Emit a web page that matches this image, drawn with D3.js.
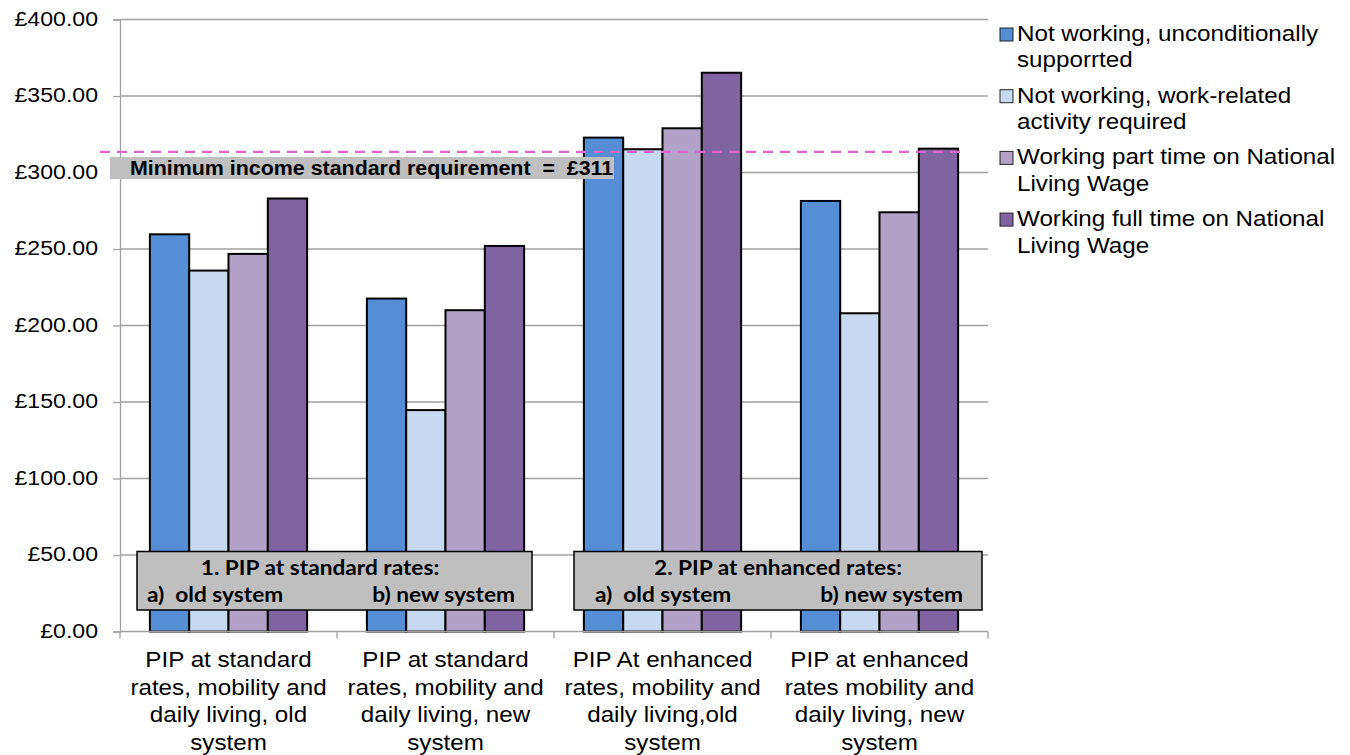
<!DOCTYPE html>
<html>
<head>
<meta charset="utf-8">
<script src="https://cdn.jsdelivr.net/npm/d3@7"></script>
<style>
  body { margin: 0; background: #fff; }
  text { font-family: "Liberation Sans", Arial, sans-serif; white-space: pre; }
</style>
</head>
<body>
<div id="chart"></div>
<script>
const categories = [
  ["PIP at standard", "rates, mobility and", "daily living, old", "system"],
  ["PIP at standard", "rates, mobility and", "daily living, new", "system"],
  ["PIP At enhanced", "rates, mobility and", "daily living,old", "system"],
  ["PIP at enhanced", "rates mobility and", "daily living, new", "system"]
];
const seriesNames = [
  ["Not working, unconditionally", "supporrted"],
  ["Not working, work-related", "activity required"],
  ["Working part time on National", "Living Wage"],
  ["Working full time on National", "Living Wage"]
];
const unconditional = [259.6, 217.6, 322.8, 281.4];
const workRelated = [235.9, 144.7, 315.2, 208.0];
const partTime = [246.8, 210.0, 328.9, 274.0];
const fullTime = [283.0, 252.0, 365.2, 315.6];
const yTicks = [0, 50, 100, 150, 200, 250, 300, 350, 400];
const minIncomeLine = 313.5;
const minIncomeLabel = "Minimum income standard requirement  =  £311";
const groupLabels = [
  ["1. PIP at standard rates:", "a)  old system", "b) new system"],
  ["2. PIP at enhanced rates:", "a)  old system", "b) new system"]
];

const colors = ["#558ED5", "#C6D9F1", "#B3A2C7", "#8064A2"];
const series = [unconditional, workRelated, partTime, fullTime];

const width = 1350, height = 755;
const plotLeft = 120, plotRight = 988, plotTop = 19.5, plotBottom = 631.5;
const stretch = 1.1; // the reference text is a bit wider than it is tall

const svg = d3.select('#chart').append('svg')
  .attr('width', width)
  .attr('height', height);

const y = d3.scaleLinear().domain([0, 400]).range([plotBottom, plotTop]);
const x = d3.scaleBand().domain(d3.range(categories.length)).range([plotLeft, plotRight]);
const xInner = d3.scaleBand().domain(d3.range(series.length))
  .range([0, x.bandwidth()]).paddingOuter(0.76);

// gridlines
svg.append('g').selectAll('line')
  .data(yTicks.filter(d => d > 0))
  .enter().append('line')
  .attr('x1', plotLeft).attr('x2', plotRight)
  .attr('y1', d => y(d)).attr('y2', d => y(d))
  .attr('stroke', '#a0a0a0').attr('stroke-width', 1.3);

// y axis
const yAxis = svg.append('g')
  .attr('transform', `translate(${plotLeft},0)`)
  .call(d3.axisLeft(y).tickValues(yTicks).tickSize(7)
    .tickFormat(d => '£' + d3.format('.2f')(d)));
yAxis.select('.domain').attr('stroke', '#a0a0a0').attr('stroke-width', 1.3);
yAxis.selectAll('.tick line').attr('stroke', '#a0a0a0').attr('stroke-width', 1.3);
yAxis.selectAll('.tick text')
  .attr('x', 0).attr('dy', '0.33em')
  .attr('transform', `translate(-22,-1) scale(${stretch},1)`)
  .attr('font-size', 21).attr('fill', '#000')
  .style('font-family', '"Liberation Sans", Arial, sans-serif');

// bars
const groups = svg.append('g').selectAll('g')
  .data(categories)
  .enter().append('g')
  .attr('transform', (d, i) => `translate(${x(i)},0)`);

groups.selectAll('rect')
  .data((d, i) => series.map((s, j) => ({ v: s[i], j })))
  .enter().append('rect')
  .attr('x', d => xInner(d.j))
  .attr('width', xInner.bandwidth())
  .attr('y', d => y(d.v))
  .attr('height', d => y(0) - y(d.v))
  .attr('fill', d => colors[d.j])
  .attr('stroke', '#000')
  .attr('stroke-width', 2);

// x axis line and ticks
svg.append('line')
  .attr('x1', plotLeft).attr('x2', plotRight)
  .attr('y1', plotBottom).attr('y2', plotBottom)
  .attr('stroke', '#a0a0a0').attr('stroke-width', 1.3);
svg.append('g').selectAll('line')
  .data(d3.range(categories.length + 1))
  .enter().append('line')
  .attr('x1', d => plotLeft + d * x.bandwidth()).attr('x2', d => plotLeft + d * x.bandwidth())
  .attr('y1', plotBottom).attr('y2', plotBottom + 7)
  .attr('stroke', '#a0a0a0').attr('stroke-width', 1.3);

// category labels
svg.append('g').selectAll('text')
  .data(categories)
  .enter().append('text')
  .attr('transform', (d, i) => `translate(${x(i) + x.bandwidth() / 2},667) scale(${stretch},1)`)
  .attr('text-anchor', 'middle')
  .attr('font-size', 22)
  .selectAll('tspan')
  .data(d => d)
  .enter().append('tspan')
  .attr('x', 0)
  .attr('dy', (d, i) => i === 0 ? 0 : 27.7)
  .text(d => d);

// minimum income label and line
svg.append('rect')
  .attr('x', 110).attr('y', 157)
  .attr('width', 504).attr('height', 22)
  .attr('fill', '#bfbfbf');
svg.append('text')
  .attr('transform', 'translate(130,175) scale(1.07,1)')
  .attr('font-size', 20).attr('font-weight', 'bold')
  .text(minIncomeLabel);
svg.append('line')
  .attr('x1', 100).attr('x2', 967)
  .attr('y1', y(minIncomeLine)).attr('y2', y(minIncomeLine))
  .attr('stroke', '#DD66CC').attr('stroke-width', 2.4)
  .attr('stroke-dasharray', '10,7');

// group label boxes
const boxes = [
  { x0: 137, x1: 532, cx: 320, ax: 147, bx: 515 },
  { x0: 574, x1: 982, cx: 778, ax: 595, bx: 963 }
];
const boxFont = 'Lato, "Open Sans", sans-serif';
boxes.forEach((b, i) => {
  const g = svg.append('g');
  g.append('rect')
    .attr('x', b.x0).attr('y', 551.5)
    .attr('width', b.x1 - b.x0).attr('height', 58.5)
    .attr('fill', '#bfbfbf').attr('stroke', '#000').attr('stroke-width', 1.5);
  const lines = [
    { t: groupLabels[i][0], x: b.cx, y: 575, anchor: 'middle' },
    { t: groupLabels[i][1], x: b.ax, y: 602, anchor: 'start' },
    { t: groupLabels[i][2], x: b.bx, y: 602, anchor: 'end' }
  ];
  g.selectAll('text')
    .data(lines)
    .enter().append('text')
    .attr('transform', d => `translate(${d.x},${d.y}) scale(1.08,1)`)
    .attr('text-anchor', d => d.anchor)
    .attr('font-size', 21).attr('font-weight', 'bold')
    .style('font-family', boxFont)
    .text(d => d.t);
});

// legend
const legend = svg.append('g').selectAll('g')
  .data(seriesNames)
  .enter().append('g')
  .attr('transform', (d, i) => `translate(1000,${28 + i * 61.7})`);
legend.append('rect')
  .attr('width', 13).attr('height', 13)
  .attr('fill', (d, i) => colors[i])
  .attr('stroke', '#222').attr('stroke-width', 1);
legend.append('text')
  .attr('transform', `translate(17,13) scale(${stretch},1)`)
  .attr('font-size', 22)
  .selectAll('tspan')
  .data(d => d)
  .enter().append('tspan')
  .attr('x', 0)
  .attr('dy', (d, i) => i === 0 ? 0 : 26.5)
  .text(d => d);
</script>
</body>
</html>
